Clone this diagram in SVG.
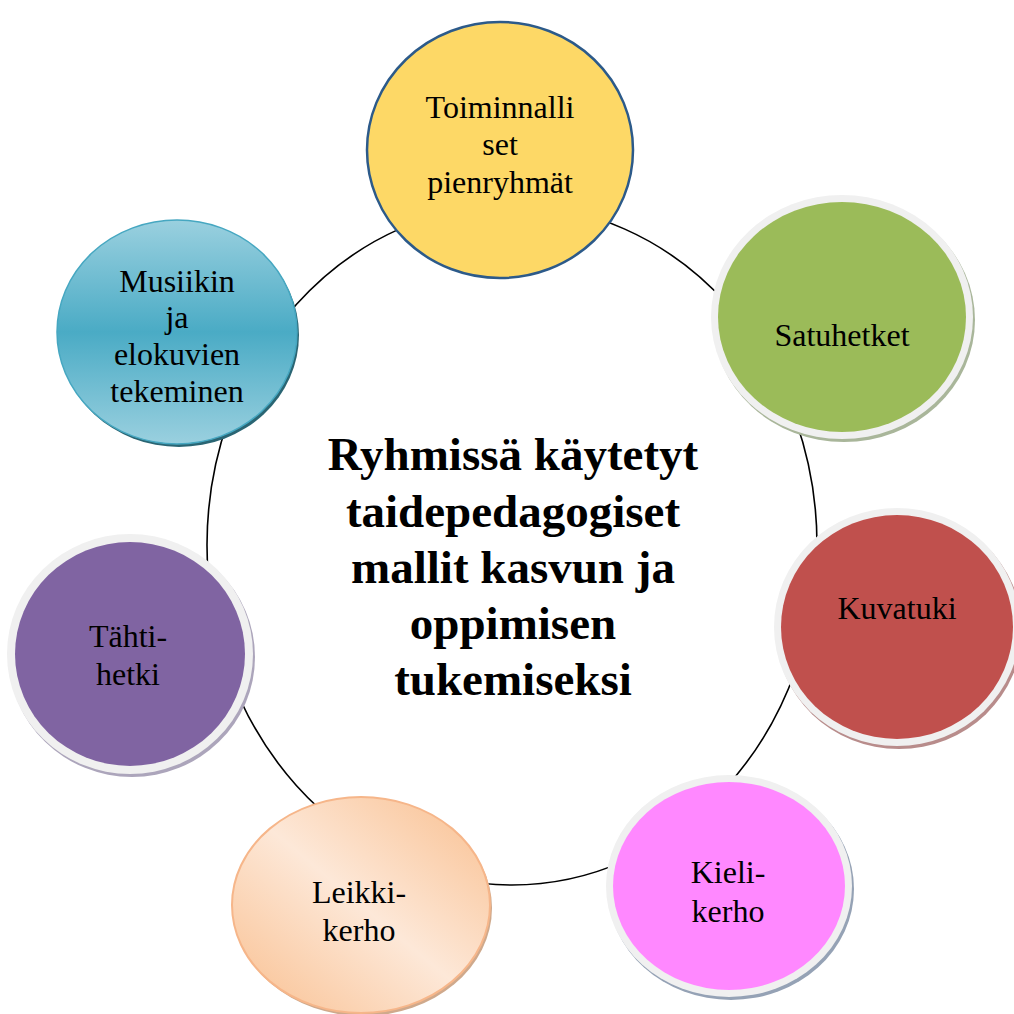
<svg xmlns="http://www.w3.org/2000/svg" width="1014" height="1014" viewBox="0 0 1014 1014">
  <defs>
    <linearGradient id="gradTeal" x1="0" y1="0" x2="0" y2="1">
      <stop offset="0" stop-color="#9ad0df"/>
      <stop offset="0.5" stop-color="#4aabc5"/>
      <stop offset="1" stop-color="#9ad0df"/>
    </linearGradient>
    <linearGradient id="gradPeach" x1="1" y1="0" x2="0" y2="1">
      <stop offset="0" stop-color="#f9bf8f"/>
      <stop offset="0.5" stop-color="#fde8d8"/>
      <stop offset="1" stop-color="#f9bf8f"/>
    </linearGradient>
    <style>
      .ring { fill: #f0f0f0; }
      .label { font-family: "Liberation Serif", "Times New Roman", serif; font-size: 32px; fill: #000; text-anchor: middle; }
      .title { font-family: "Liberation Serif", "Times New Roman", serif; font-size: 47px; font-weight: bold; fill: #000; text-anchor: middle; }
      .conn { fill: none; stroke: #000; stroke-width: 1.6; }
    </style>
  </defs>

  <rect width="1014" height="1014" fill="#ffffff"/>

  <!-- connecting ring behind the nodes -->
  <g id="connectors">
    <ellipse class="conn" cx="512" cy="545" rx="305" ry="340"/>
  </g>

  <!-- central title -->
  <g id="title">
    <text class="title" x="513" y="470">Ryhmissä käytetyt</text>
    <text class="title" x="513" y="527">taidepedagogiset</text>
    <text class="title" x="513" y="583">mallit kasvun ja</text>
    <text class="title" x="513" y="639">oppimisen</text>
    <text class="title" x="513" y="695">tukemiseksi</text>
  </g>

  <g id="node-toiminnalliset">
    <ellipse cx="500" cy="150" rx="133" ry="128" fill="#fdd866" stroke="#2c5a8a" stroke-width="2.5"/>
    <text class="label" x="500" y="118">Toiminnalli</text>
    <text class="label" x="500" y="155">set</text>
    <text class="label" x="500" y="193">pienryhmät</text>
  </g>

  <g id="node-satuhetket">
    <ellipse cx="844" cy="320" rx="131" ry="122" fill="#a9b69a"/>
    <ellipse class="ring" cx="842" cy="317" rx="131" ry="122"/>
    <ellipse cx="842" cy="317" rx="124" ry="115" fill="#9bbb59"/>
    <text class="label" x="842" y="346">Satuhetket</text>
  </g>

  <g id="node-kuvatuki">
    <ellipse cx="899" cy="630" rx="123" ry="119" fill="#b88c8b"/>
    <ellipse class="ring" cx="897" cy="627" rx="123" ry="119"/>
    <ellipse cx="897" cy="627" rx="116" ry="112" fill="#c0504d"/>
    <text class="label" x="897" y="619">Kuvatuki</text>
  </g>

  <g id="node-kielikerho">
    <ellipse cx="731" cy="889" rx="123" ry="111" fill="#95a2b5"/>
    <ellipse class="ring" cx="729" cy="886" rx="123" ry="111"/>
    <ellipse cx="729" cy="886" rx="116" ry="104" fill="#ff88ff"/>
    <text class="label" x="728" y="883">Kieli-</text>
    <text class="label" x="728" y="922">kerho</text>
  </g>

  <g id="node-leikkikerho">
    <ellipse cx="363" cy="908" rx="129" ry="108" fill="#cfa98c"/>
    <ellipse cx="361" cy="905" rx="129" ry="108" fill="url(#gradPeach)" stroke="#f6b68a" stroke-width="2"/>
    <text class="label" x="359" y="903">Leikki-</text>
    <text class="label" x="359" y="941">kerho</text>
  </g>

  <g id="node-tahtihetki">
    <ellipse cx="132" cy="657" rx="123" ry="120" fill="#aca5bb"/>
    <ellipse class="ring" cx="130" cy="654" rx="123" ry="120"/>
    <ellipse cx="130" cy="654" rx="115" ry="112" fill="#8064a2"/>
    <text class="label" x="128" y="647">Tähti-</text>
    <text class="label" x="128" y="685">hetki</text>
  </g>

  <g id="node-musiikki">
    <ellipse cx="179" cy="335" rx="120" ry="112" fill="#2a6573"/>
    <ellipse cx="177" cy="332" rx="120" ry="112" fill="url(#gradTeal)" stroke="#46a7c1" stroke-width="1.5"/>
    <text class="label" x="177" y="292">Musiikin</text>
    <text class="label" x="177" y="328">ja</text>
    <text class="label" x="177" y="365">elokuvien</text>
    <text class="label" x="177" y="402">tekeminen</text>
  </g>
</svg>
